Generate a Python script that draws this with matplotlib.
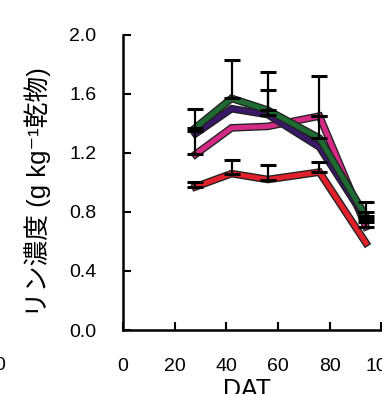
import numpy as np
import matplotlib
matplotlib.use("Agg")
import matplotlib.pyplot as plt
import matplotlib.patheffects as pe

# ==========================
# Data
# ==========================
dat = [28, 42, 56, 76, 94]

green   = [1.37, 1.57, 1.49, 1.30, 0.77]
purple  = [1.33, 1.50, 1.46, 1.24, 0.75]
magenta = [1.19, 1.37, 1.38, 1.45, 0.70]
red     = [0.97, 1.06, 1.02, 1.07, 0.59]

# upper error bars only (0 = no bar visible)
green_err   = [0.13, 0.26, 0.26, 0.15, 0.10]
purple_err  = [0.00, 0.00, 0.17, 0.00, 0.05]
magenta_err = [0.16, 0.00, 0.00, 0.27, 0.03]
red_err     = [0.03, 0.09, 0.10, 0.07, 0.00]

xticks = [0, 20, 40, 60, 80, 100]
yticks = [0.0, 0.4, 0.8, 1.2, 1.6, 2.0]

plt.rcParams['font.family'] = ['Liberation Sans', 'Noto Sans CJK JP', 'DejaVu Sans']

fig = plt.figure(figsize=(3.82, 3.94), dpi=100)
ax = fig.add_axes([0.322, 0.1624, 0.68, 0.749])

series = [
    (red, red_err, '#e0202a'),
    (magenta, magenta_err, '#d42a86'),
    (purple, purple_err, '#3a1868'),
    (green, green_err, '#1f6a32'),
]

outline = [pe.Stroke(linewidth=5.5, foreground='#202020'), pe.Normal()]
for i, (vals, err, col) in enumerate(series):
    ax.plot(dat, vals, color=col, lw=3.6, zorder=2 + i,
            solid_joinstyle='miter', path_effects=outline)
    # only draw the bars that are visible in the figure
    keep = np.array(err) > 0
    x = np.array(dat)[keep]
    y = np.array(vals)[keep]
    e = np.array(err)[keep]
    ax.errorbar(x, y, yerr=[np.zeros(len(e)), e], fmt='none', ecolor='black',
                elinewidth=1.6, capsize=6, capthick=2.2, zorder=10)

ax.set_xlim(0, 100.5)
ax.set_ylim(0, 2.0)
ax.set_xticks(xticks)
ax.set_yticks(yticks)
ax.set_xticklabels([str(t) for t in xticks])
ax.set_yticklabels(['%.1f' % t for t in yticks])

for s in ['top', 'right']:
    ax.spines[s].set_visible(False)
for s in ['left', 'bottom']:
    ax.spines[s].set_linewidth(1.8)

ax.tick_params(axis='both', direction='in', length=6, width=1.5, labelsize=14)
ax.tick_params(axis='x', pad=20)
ax.tick_params(axis='y', pad=19)

fig.text(247 / 382, 1 - 390 / 394, 'DAT', ha='center', va='center', fontsize=18)
fig.text(38 / 382, 1 - 192 / 394, 'リン濃度 (g kg⁻¹乾物)', rotation=90,
         ha='center', va='center', fontsize=18.5)
# piece of neighbouring panel's tick label
fig.text(0.0, 1 - 366 / 394, '0', ha='center', va='center', fontsize=14)

fig.savefig('out.png', dpi=100)
